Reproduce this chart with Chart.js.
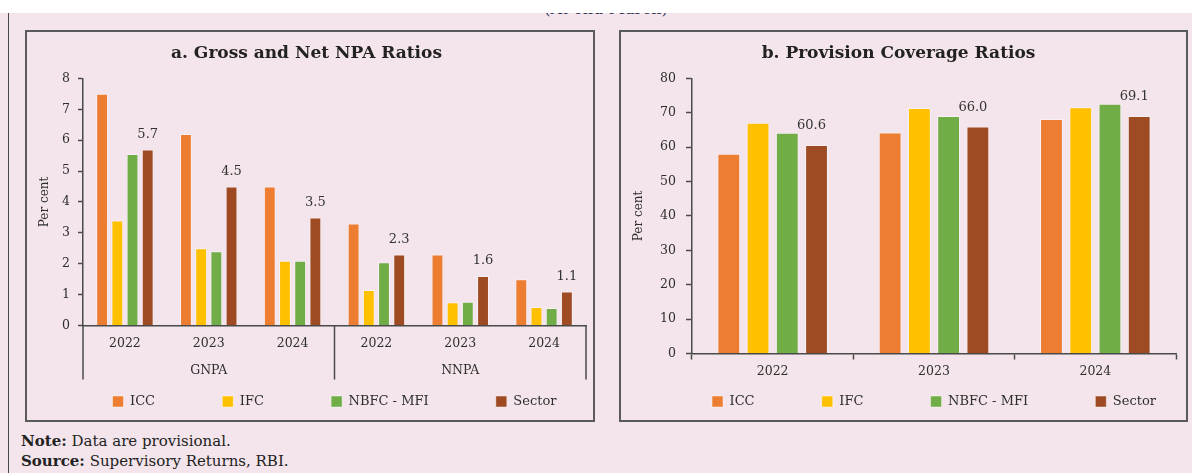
<!DOCTYPE html>
<html>
<head>
<meta charset="utf-8">
<script src="https://cdn.jsdelivr.net/npm/chart.js@4.4.1/dist/chart.umd.min.js"></script>
<style>
html,body{margin:0;padding:0;background:#ffffff;}
body{width:1192px;height:473px;position:relative;overflow:hidden;font-family:"DejaVu Serif",serif;color:#2b2b2b;}
#bg{position:absolute;left:0;top:13px;width:1192px;height:460px;background:#f3e5eb;overflow:hidden;}
#outer{position:absolute;left:8px;top:0;width:0;height:460px;border-left:1.5px solid #4a4a4a;}
#sub{position:absolute;left:0;width:1212px;text-align:center;top:-12px;font-size:16px;line-height:16px;color:#2d3050;white-space:nowrap;}
.panel{position:absolute;top:30px;height:392px;box-sizing:border-box;border:2px solid #5a5a5a;}
#pa{left:25px;width:570px;}
#pb{left:619px;width:569px;}
.panel canvas{display:block;}
.note{position:absolute;left:21px;font-size:15px;line-height:18px;color:#222;white-space:nowrap;}
.note b{font-weight:bold;}
</style>
</head>
<body>
<div id="bg">
  <div id="outer"></div>
  <div id="sub">(At end-March)</div>
</div>
<div class="panel" id="pa"><canvas id="ca" width="566" height="388"></canvas></div>
<div class="panel" id="pb"><canvas id="cb" width="565" height="388"></canvas></div>
<div class="note" style="top:432px;"><b>Note:</b> Data are provisional.</div>
<div class="note" style="top:452px;"><b>Source:</b> Supervisory Returns, RBI.</div>

<script>
// ---------- data ----------
const seriesNames = ['ICC', 'IFC', 'NBFC - MFI', 'Sector'];
const seriesColors = ['#ED7D31', '#FFC000', '#70AD47', '#9E4A22'];

const npaYears = ['2022', '2023', '2024', '2022', '2023', '2024'];
const npaGroups = ['GNPA', 'NNPA'];
const npaICC    = [7.5, 6.2, 4.5, 3.3, 2.3, 1.5];
const npaIFC    = [3.4, 2.5, 2.1, 1.15, 0.75, 0.6];
const npaNBFC   = [5.55, 2.4, 2.1, 2.05, 0.77, 0.57];
const npaSector = [5.7, 4.5, 3.5, 2.3, 1.6, 1.1];
const npaTicks  = [0, 1, 2, 3, 4, 5, 6, 7, 8];

const pcrYears  = ['2022', '2023', '2024'];
const pcrICC    = [58.1, 64.3, 68.2];
const pcrIFC    = [67.1, 71.4, 71.6];
const pcrNBFC   = [64.2, 69.1, 72.6];
const pcrSector = [60.6, 66.0, 69.1];
const pcrTicks  = [0, 10, 20, 30, 40, 50, 60, 70, 80];

// ---------- helpers ----------
const F = '"DejaVu Serif", serif';
const TXT = '#2e2e2e';
const AX = '#4a4a4a';
Chart.defaults.font.family = F;
Chart.defaults.color = TXT;

function makeDatasets(arrs) {
  return arrs.map((d, i) => ({
    label: seriesNames[i],
    data: d,
    backgroundColor: seriesColors[i],
    borderColor: 'rgba(255,255,255,0.45)',
    borderWidth: 1,
    barPercentage: 0.78,
    categoryPercentage: 0.725,
    showValue: i === 3
  }));
}

const barLabels = {
  id: 'barLabels',
  afterDatasetsDraw(chart, args, opts) {
    const ctx = chart.ctx;
    chart.data.datasets.forEach((ds, i) => {
      if (!ds.showValue) return;
      const meta = chart.getDatasetMeta(i);
      meta.data.forEach((el, j) => {
        ctx.save();
        ctx.font = '13px ' + F;
        ctx.fillStyle = '#333';
        ctx.textAlign = 'center';
        ctx.textBaseline = 'middle';
        ctx.fillText(Number(ds.data[j]).toFixed(1), el.x + (opts.dx || 0), el.y - opts.dy);
        ctx.restore();
      });
    });
  }
};

const groupLines = {
  id: 'groupLines',
  afterDraw(chart) {
    const x = chart.scales.x, x2 = chart.scales.x2;
    if (!x2) return;
    const ctx = chart.ctx;
    const n = x.getLabels().length;
    const per = n / npaGroups.length;
    const half = (x.getPixelForTick(1) - x.getPixelForTick(0)) / 2;
    ctx.save();
    ctx.strokeStyle = AX;
    ctx.lineWidth = 1.5;
    for (let g = 0; g <= npaGroups.length; g++) {
      const idx = g * per;
      const px = idx < n ? x.getPixelForTick(idx) - half : x.getPixelForTick(n - 1) + half;
      ctx.beginPath();
      ctx.moveTo(px, x.top);
      ctx.lineTo(px, x2.top + 27);
      ctx.stroke();
    }
    ctx.restore();
  }
};

function legendOpts() {
  return {
    position: 'bottom',
    fullSize: false,
    labels: {
      boxWidth: 11,
      boxHeight: 11,
      padding: 13.5,
      font: { family: F, size: 13 },
      color: TXT,
      generateLabels(chart) {
        const items = Chart.defaults.plugins.legend.labels.generateLabels(chart);
        return items.map((it, k) => {
          if (k < items.length - 1) it.text = it.text + ' '.repeat(13);
          return it;
        });
      }
    }
  };
}

function titleOpts(text) {
  return {
    display: true, text: text,
    font: { family: F, size: 17, weight: 'bold' },
    color: '#222',
    padding: { top: 11, bottom: 15 }
  };
}

// ---------- chart a ----------
new Chart(document.getElementById('ca'), {
  type: 'bar',
  data: {
    labels: npaYears,
    datasets: makeDatasets([npaICC, npaIFC, npaNBFC, npaSector])
  },
  options: {
    responsive: false,
    animation: false,
    layout: { padding: { left: 0, right: 7, top: 0, bottom: 2 } },
    plugins: {
      title: titleOpts('a. Gross and Net NPA Ratios'),
      legend: legendOpts(),
      tooltip: { enabled: false },
      barLabels: { dx: 0, dy: 15 }
    },
    scales: {
      x: {
        offset: true,
        grid: { display: false, drawTicks: false },
        border: { display: true, color: AX, width: 1.5 },
        ticks: { padding: 11, font: { family: F, size: 12.5 }, color: TXT },
        afterFit(s) { s.height = 27; }
      },
      x2: {
        type: 'category',
        labels: npaGroups,
        position: 'bottom',
        offset: true,
        grid: { display: false, drawTicks: false },
        border: { display: false },
        ticks: { padding: 11, font: { family: F, size: 12.5 }, color: TXT },
        afterFit(s) { s.height = 29; }
      },
      y: {
        min: npaTicks[0], max: npaTicks[npaTicks.length - 1],
        afterBuildTicks(s) { s.ticks = npaTicks.map(v => ({ value: v })); },
        grid: { display: true, drawOnChartArea: false, drawTicks: true, tickLength: 5, tickColor: AX, tickWidth: 1.5 },
        border: { display: true, color: AX, width: 1.5 },
        ticks: { padding: 8, font: { family: F, size: 12.5 }, color: TXT },
        title: { display: true, text: 'Per cent', font: { family: F, size: 12 }, color: TXT, padding: { top: 11, bottom: 0 } },
        afterFit(s) { s.width = 56; }
      }
    }
  },
  plugins: [barLabels, groupLines]
});

// ---------- chart b ----------
new Chart(document.getElementById('cb'), {
  type: 'bar',
  data: {
    labels: pcrYears,
    datasets: makeDatasets([pcrICC, pcrIFC, pcrNBFC, pcrSector])
  },
  options: {
    responsive: false,
    animation: false,
    layout: { padding: { left: 0, right: 10, top: 0, bottom: 2 } },
    plugins: {
      title: titleOpts('b. Provision Coverage Ratios'),
      legend: legendOpts(),
      tooltip: { enabled: false },
      barLabels: { dx: -5, dy: 19 }
    },
    scales: {
      x: {
        offset: true,
        grid: { display: true, offset: true, drawOnChartArea: false, drawTicks: true, tickLength: 6, tickColor: AX, tickWidth: 1.5 },
        border: { display: true, color: AX, width: 1.5 },
        ticks: { padding: 5, font: { family: F, size: 12.5 }, color: TXT },
        afterFit(s) { s.height = 28; }
      },
      y: {
        min: pcrTicks[0], max: pcrTicks[pcrTicks.length - 1],
        afterBuildTicks(s) { s.ticks = pcrTicks.map(v => ({ value: v })); },
        grid: { display: true, drawOnChartArea: false, drawTicks: true, tickLength: 6, tickColor: AX, tickWidth: 1.5 },
        border: { display: true, color: AX, width: 1.5 },
        ticks: { padding: 10, font: { family: F, size: 12.5 }, color: TXT },
        title: { display: true, text: 'Per cent', font: { family: F, size: 12 }, color: TXT, padding: { top: 11, bottom: 0 } },
        afterFit(s) { s.width = 71; }
      }
    }
  },
  plugins: [barLabels]
});
</script>
</body>
</html>
